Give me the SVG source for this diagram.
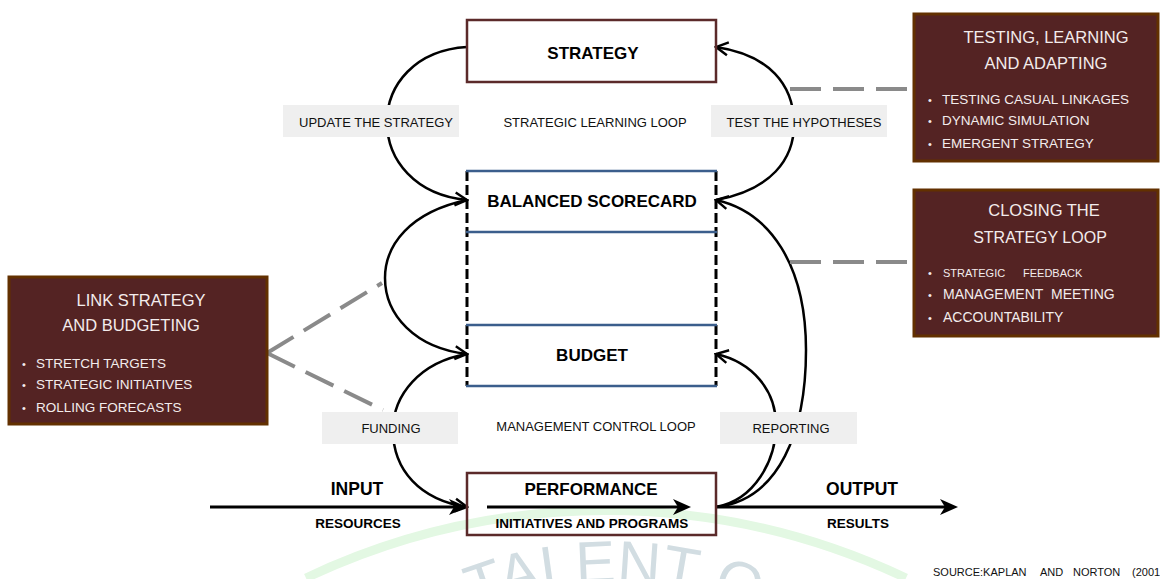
<svg xmlns="http://www.w3.org/2000/svg" width="1160" height="579" viewBox="0 0 1160 579">
<style>
text{font-family:"Liberation Sans",Arial,sans-serif}
.b{font-weight:bold;fill:#000;text-anchor:middle}
.lbl{font-size:13px;fill:#111;text-anchor:middle}
.bg{fill:#efefef}
.node{fill:none;stroke:#5b2a2a;stroke-width:2.5}
.mbox{fill:#542323;stroke:#623000;stroke-width:3}
.wt{fill:#f3ecec}
.title{font-size:16.5px;text-anchor:middle}
.item{font-size:13.5px}
.dot{font-size:11px}
.c{fill:none;stroke:#000;stroke-width:2.5}
.ln{fill:none;stroke:#000;stroke-width:3}
.dash{fill:none;stroke:#8a8a8a;stroke-width:4;stroke-dasharray:31 12}
.blue{stroke:#3b5e8c;stroke-width:2.5}
.vd{stroke:#000;stroke-width:3;stroke-dasharray:10 4}
</style>
<defs>
<marker id="open" viewBox="0 0 16 16" refX="14" refY="8" markerWidth="16" markerHeight="16" markerUnits="userSpaceOnUse" orient="auto"><path d="M2,1.5 L14,8 L2,14.5" fill="none" stroke="#000" stroke-width="2.4"/></marker>
<marker id="solid" viewBox="0 0 18 16" refX="13" refY="8" markerWidth="18" markerHeight="16" markerUnits="userSpaceOnUse" orient="auto"><path d="M0,0 L18,8 L0,16 L5,8 z" fill="#000"/></marker>
<path id="wmArc" d="M380,662 A380,380 0 0 1 844,662"/>
</defs>
<rect width="1160" height="579" fill="#fff"/>

<g id="watermark">
<path d="M306,578 A700,700 0 0 1 906,578" fill="none" stroke="#e3f8e3" stroke-width="9"/>
<text font-size="60" fill="#d2dde2"><textPath href="#wmArc" startOffset="108">TALENT O</textPath></text>
</g>

<g id="connectors">
<path class="c" d="M467,47 C415,50 387,85 387,122 C387,160 415,195 467,200" marker-end="url(#open)"/>
<path class="c" d="M716,200 C770,190 795,160 794,122 C793,85 770,55 716,47" marker-end="url(#open)"/>
<path class="c" d="M467,200 C410,212 385,245 385,278 C385,315 415,348 467,354" marker-end="url(#open)"/>
<path class="c" d="M467,354 C420,362 393,395 393,430 C393,470 420,500 467,507" marker-end="url(#open)"/>
<path class="c" d="M716,507 C755,500 776,460 776,425 C776,390 752,362 716,354" marker-end="url(#open)"/>
<path class="c" d="M716,507 C780,500 806,430 806,350 C806,265 770,212 716,200" marker-end="url(#open)"/>
<line class="ln" x1="210" y1="507" x2="462" y2="507" marker-end="url(#solid)"/>
<line class="ln" x1="716" y1="507" x2="953" y2="507" marker-end="url(#solid)"/>
<line class="ln" x1="487" y1="507" x2="686" y2="507" marker-end="url(#solid)"/>
<line class="dash" x1="790" y1="89" x2="912" y2="89"/>
<line class="dash" x1="790" y1="262" x2="912" y2="262"/>
<line class="dash" x1="267" y1="353" x2="382" y2="283"/>
<line class="dash" x1="267" y1="353" x2="383" y2="410"/>
</g>

<g id="connector-labels">
<rect class="bg" x="283" y="105" width="176" height="32"/>
<text class="lbl" x="376" y="126.5">UPDATE THE STRATEGY</text>
<text class="lbl" x="595" y="126.5">STRATEGIC LEARNING LOOP</text>
<rect class="bg" x="711" y="105" width="176" height="32"/>
<text class="lbl" x="804" y="126.5">TEST THE HYPOTHESES</text>
<rect class="bg" x="322" y="412" width="136" height="32"/>
<text class="lbl" x="391" y="433">FUNDING</text>
<text class="lbl" x="596" y="431">MANAGEMENT CONTROL LOOP</text>
<rect class="bg" x="720" y="412" width="137" height="32"/>
<text class="lbl" x="791" y="433">REPORTING</text>
</g>

<g id="strategy">
<rect class="node" x="467" y="20" width="249" height="62"/>
<text class="b" x="593" y="59" font-size="17">STRATEGY</text>
</g>

<g id="scorecard-frame">
<line class="vd" x1="467" y1="171" x2="467" y2="386"/>
<line class="vd" x1="716" y1="171" x2="716" y2="386"/>
</g>

<g id="balanced-scorecard">
<line class="blue" x1="466" y1="171" x2="717" y2="171"/>
<line class="blue" x1="466" y1="232" x2="717" y2="232"/>
<text class="b" x="592" y="207" font-size="17">BALANCED SCORECARD</text>
</g>

<g id="budget">
<line class="blue" x1="466" y1="325" x2="717" y2="325"/>
<line class="blue" x1="466" y1="386" x2="717" y2="386"/>
<text class="b" x="592" y="361" font-size="17">BUDGET</text>
</g>

<g id="performance">
<rect class="node" x="467" y="473" width="249" height="62"/>
<text class="b" x="591" y="495" font-size="17">PERFORMANCE</text>
<text class="b" x="592" y="528" font-size="13.5">INITIATIVES AND PROGRAMS</text>
</g>

<g id="input">
<text class="b" x="357" y="495" font-size="17.5">INPUT</text>
<text class="b" x="358" y="528" font-size="13.5">RESOURCES</text>
</g>

<g id="output">
<text class="b" x="862" y="495" font-size="17.5">OUTPUT</text>
<text class="b" x="858" y="528" font-size="13.5">RESULTS</text>
</g>

<g id="testing-learning-adapting">
<rect class="mbox" x="914" y="14" width="244" height="147"/>
<text class="wt title" x="1046" y="43">TESTING, LEARNING</text>
<text class="wt title" x="1046" y="69">AND ADAPTING</text>
<text class="wt dot" x="928" y="104">•</text>
<text class="wt item" x="942" y="104">TESTING CASUAL LINKAGES</text>
<text class="wt dot" x="928" y="125">•</text>
<text class="wt item" x="942" y="125">DYNAMIC SIMULATION</text>
<text class="wt dot" x="928" y="148">•</text>
<text class="wt item" x="942" y="148">EMERGENT STRATEGY</text>
</g>

<g id="closing-strategy-loop">
<rect class="mbox" x="914" y="190" width="244" height="146"/>
<text class="wt title" x="1044" y="216">CLOSING THE</text>
<text class="wt" x="1040" y="243" font-size="16" text-anchor="middle">STRATEGY LOOP</text>
<text class="wt dot" x="928" y="277">•</text>
<text class="wt" x="943" y="277" font-size="11">STRATEGIC<tspan x="1023">FEEDBACK</tspan></text>
<text class="wt dot" x="928" y="299">•</text>
<text class="wt" x="943" y="299" font-size="14" word-spacing="4">MANAGEMENT MEETING</text>
<text class="wt dot" x="928" y="322">•</text>
<text class="wt" x="943" y="322" font-size="14">ACCOUNTABILITY</text>
</g>

<g id="link-strategy-budgeting">
<rect class="mbox" x="9" y="277" width="258" height="147"/>
<text class="wt title" x="141" y="306">LINK STRATEGY</text>
<text class="wt title" x="131" y="331">AND BUDGETING</text>
<text class="wt dot" x="22" y="368">•</text>
<text class="wt item" x="36" y="368">STRETCH TARGETS</text>
<text class="wt dot" x="22" y="389">•</text>
<text class="wt item" x="36" y="389">STRATEGIC INITIATIVES</text>
<text class="wt dot" x="22" y="412">•</text>
<text class="wt item" x="36" y="412">ROLLING FORECASTS</text>
</g>

<g id="source">
<text x="933" y="576" font-size="11" fill="#111">SOURCE:KAPLAN<tspan x="1040">AND</tspan><tspan x="1073">NORTON</tspan><tspan x="1132">(2001</tspan></text>
</g>
</svg>
